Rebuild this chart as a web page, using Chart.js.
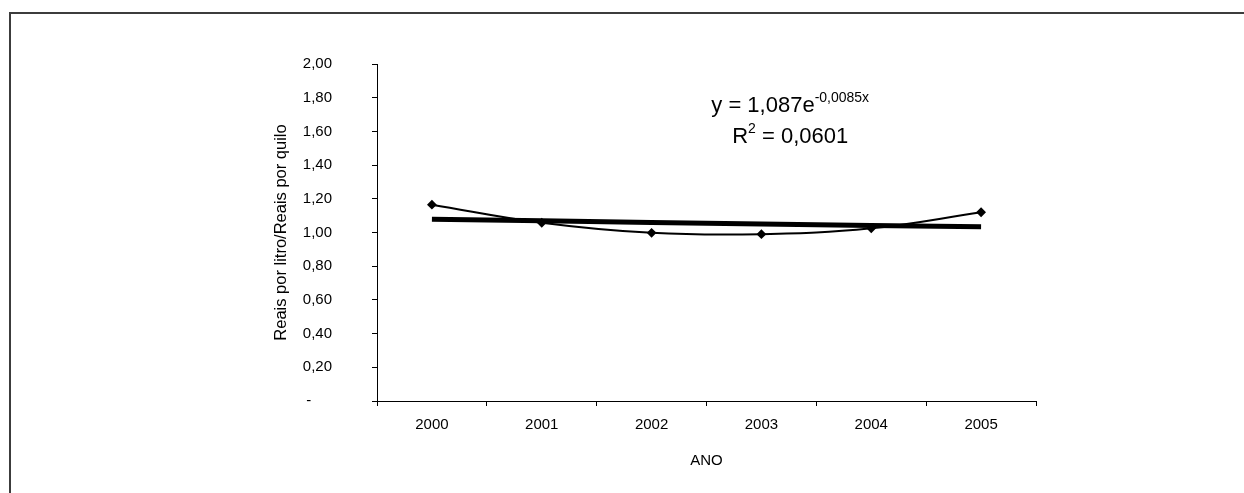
<!DOCTYPE html>
<html>
<head>
<meta charset="utf-8">
<script src="https://cdn.jsdelivr.net/npm/chart.js@4"></script>
<style>
  body { margin: 0; background: #fff; overflow: hidden; }
  #wrap { position: relative; width: 1244px; height: 493px; }
  #frame { position: absolute; left: 9px; top: 12px; right: 0; bottom: 0;
           border-top: 2px solid #3c3c3c; border-left: 2px solid #3c3c3c; }
  canvas { position: absolute; left: 0; top: 0; }
</style>
</head>
<body>
<div id="wrap">
  <div id="frame"></div>
  <canvas id="precoChart" width="1244" height="493"></canvas>
</div>
<script>
// Preço médio por ano
const anos = ['2000', '2001', '2002', '2003', '2004', '2005'];
const precos = [1.165, 1.058, 0.998, 0.990, 1.025, 1.120];
// linha de tendência exponencial
const tendencia = [1.078, 1.069, 1.060, 1.051, 1.042, 1.034];
const yTicks = [0, 0.2, 0.4, 0.6, 0.8, 1.0, 1.2, 1.4, 1.6, 1.8, 2.0];

const fonte = 'Liberation Sans, Arial, sans-serif';

// texto da equação da tendência
const equacao = {
  id: 'equacao',
  afterDraw(chart) {
    const { ctx, chartArea: a } = chart;
    ctx.save();
    ctx.fillStyle = '#000';
    ctx.textBaseline = 'alphabetic';
    ctx.textAlign = 'left';
    const cx = a.left + 0.627 * (a.right - a.left);
    const big = '22px ' + fonte, small = '14px ' + fonte;

    // linha 1: y = 1,087e^-0,0085x
    ctx.font = big;
    const t1 = 'y = 1,087e';
    const w1 = ctx.measureText(t1).width;
    ctx.font = small;
    const s1 = '-0,0085x';
    const ws1 = ctx.measureText(s1).width;
    let x = cx - (w1 + ws1) / 2;
    let y = a.top + 48;
    ctx.font = big; ctx.fillText(t1, x, y);
    ctx.font = small; ctx.fillText(s1, x + w1, y - 10);

    // linha 2: R^2 = 0,0601
    ctx.font = big;
    const r = 'R', rest = ' = 0,0601';
    const wr = ctx.measureText(r).width, wrest = ctx.measureText(rest).width;
    ctx.font = small;
    const w2 = ctx.measureText('2').width;
    x = cx - (wr + w2 + wrest) / 2;
    y = a.top + 79;
    ctx.font = big; ctx.fillText(r, x, y);
    ctx.font = small; ctx.fillText('2', x + wr, y - 10);
    ctx.font = big; ctx.fillText(rest, x + wr + w2, y);
    ctx.restore();
  }
};

new Chart(document.getElementById('precoChart'), {
  type: 'line',
  data: {
    labels: anos,
    datasets: [{
      label: 'Tendência',
      data: tendencia,
      borderColor: '#000',
      borderWidth: 5,
      pointRadius: 0,
      tension: 0
    }, {
      label: 'Preço',
      data: precos,
      borderColor: '#000',
      backgroundColor: '#000',
      borderWidth: 2,
      pointStyle: 'rectRot',
      pointRadius: 3.5,
      tension: 0.4
    }]
  },
  options: {
    responsive: false,
    animation: false,
    layout: { padding: { top: 64, right: 208, bottom: 0, left: 0 } },
    plugins: { legend: { display: false }, tooltip: { enabled: false } },
    scales: {
      x: {
        offset: true,
        afterFit: s => { s.height = 92; },
        grid: { offset: true, drawOnChartArea: false, drawTicks: true, tickLength: 5, color: '#000' },
        border: { color: '#000', width: 1 },
        ticks: { color: '#000', font: { family: fonte, size: 15 }, padding: 10 },
        title: { display: true, text: 'ANO', color: '#000', font: { family: fonte, size: 15 }, padding: { top: 0, bottom: 23 } }
      },
      y: {
        min: 0,
        max: 2,
        afterFit: s => { s.width = 377; },
        afterBuildTicks: s => { s.ticks = yTicks.map(v => ({ value: v })); },
        grid: { drawOnChartArea: false, drawTicks: true, tickLength: 5, color: '#000' },
        border: { color: '#000', width: 1 },
        ticks: {
          color: '#000',
          font: { family: fonte, size: 15 },
          padding: 40,
          callback: v => v === 0 ? '-\u00a0\u00a0\u00a0\u00a0\u00a0' : v.toFixed(2).replace('.', ',')
        },
        title: {
          display: true,
          text: 'Reais por litro/Reais por quilo',
          color: '#000',
          font: { family: fonte, size: 16.5 },
          padding: { top: 272, bottom: 0 }
        }
      }
    }
  },
  plugins: [equacao]
});
</script>
</body>
</html>
